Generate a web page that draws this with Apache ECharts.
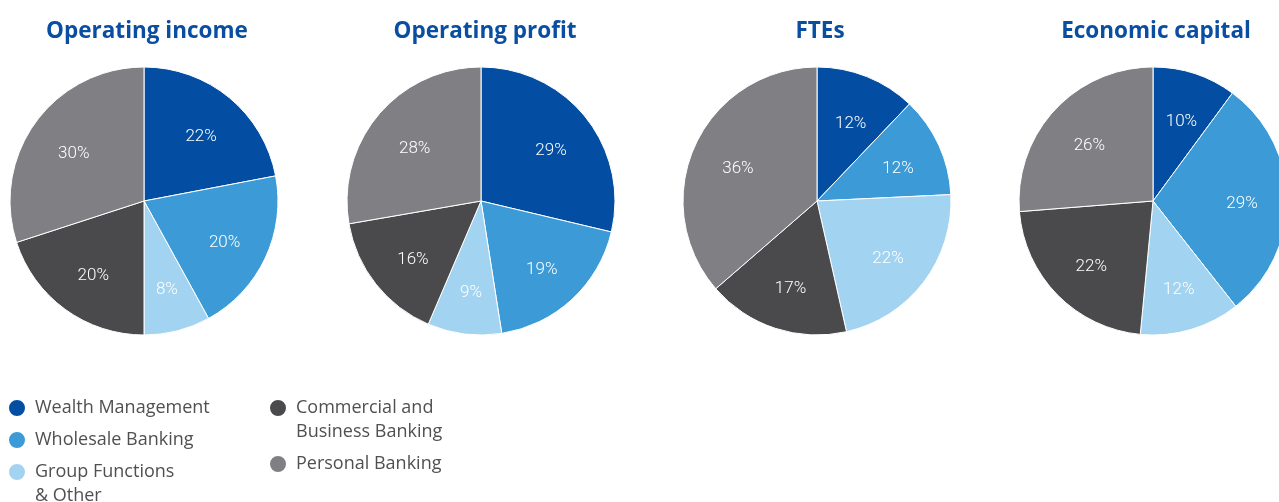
<!DOCTYPE html>
<html>
<head>
<meta charset="utf-8">
<script src="https://cdn.jsdelivr.net/npm/echarts@6/dist/echarts.min.js"></script>
<style>
    html, body { margin: 0; padding: 0; background: #fff; }
    #chart { width: 1279px; height: 502px; }
</style>
</head>
<body>
<div id="chart"></div>
<script>
// Data
const segments = ['Wealth Management', 'Wholesale Banking', 'Group Functions & Other', 'Commercial and Business Banking', 'Personal Banking']
const segmentColors = ['#034ea2', '#3c9bd6', '#a2d3f1', '#4a4a4c', '#808084']
const chartTitles = ['Operating income', 'Operating profit', 'FTEs', 'Economic capital']
const operatingIncome = [22, 20, 8, 20, 30]
const operatingProfit = [29, 19, 9, 16, 28]
const ftes = [12, 12, 22, 17, 36]
const economicCapital = [10, 29, 12, 22, 26]

const pieValues = [operatingIncome, operatingProfit, ftes, economicCapital]
const pieCentersX = [144, 481, 817, 1153]
const titleCentersX = [147, 485, 820, 1156]

const chart = echarts.init(document.getElementById('chart'))

function pieData(values) {
    return values.map((v, i) => ({
        name: segments[i],
        value: v,
        itemStyle: { color: segmentColors[i] }
    }))
}

const series = []
pieValues.forEach((values, idx) => {
    // pie slices
    series.push({
        type: 'pie',
        center: [pieCentersX[idx], 201],
        radius: [0, 134],
        startAngle: 90,
        clockwise: true,
        silent: true,
        animation: false,
        itemStyle: { borderColor: '#fff', borderWidth: 1 },
        label: { show: false },
        labelLine: { show: false },
        data: pieData(values)
    })
    // label ring (transparent) so the percentages sit further out
    series.push({
        type: 'pie',
        center: [pieCentersX[idx], 201],
        radius: [36, 134],
        startAngle: 90,
        silent: true,
        animation: false,
        itemStyle: { color: 'transparent', borderWidth: 0 },
        label: {
            show: true,
            position: 'inside',
            formatter: '{c}%',
            color: '#fff',
            fontSize: 17,
            fontWeight: 300,
            fontFamily: 'Roboto',
            offset: [1, 4]
        },
        labelLine: { show: false },
        data: values.map((v, i) => ({ name: segments[i], value: v }))
    })
})

const titles = chartTitles.map((t, i) => ({
    text: t,
    left: titleCentersX[i],
    top: 19,
    textAlign: 'center',
    padding: 0,
    textStyle: {
        color: '#0a4ea2',
        fontSize: 22.5,
        fontWeight: 'bold',
        fontFamily: 'Open Sans',
        lineHeight: 26
    }
}))

// Legend: one component per item so each can be placed freely
const legendLabels = {
    'Wealth Management': 'Wealth Management',
    'Wholesale Banking': 'Wholesale Banking',
    'Group Functions & Other': '\nGroup Functions\n& Other',
    'Commercial and Business Banking': '\nCommercial and\nBusiness Banking',
    'Personal Banking': 'Personal Banking'
}
const legendSpots = [
    { left: 7, centerY: 408, lines: 1 },
    { left: 7, centerY: 440, lines: 1 },
    { left: 7, centerY: 472, lines: 3 },
    { left: 268, centerY: 408, lines: 3 },
    { left: 268, centerY: 464, lines: 1 }
]
const legends = segments.map((name, i) => ({
    data: [name],
    left: legendSpots[i].left,
    top: legendSpots[i].centerY - legendSpots[i].lines * 12,
    padding: 0,
    icon: 'circle',
    itemWidth: 18,
    itemHeight: 18,
    selectedMode: false,
    formatter: n => legendLabels[n],
    textStyle: {
        color: '#505052',
        fontSize: 18,
        lineHeight: 24,
        fontFamily: 'Open Sans',
        padding: [0, 0, 0, 4]
    }
}))

chart.setOption({
    animation: false,
    title: titles,
    legend: legends,
    series: series
})
</script>
</body>
</html>
